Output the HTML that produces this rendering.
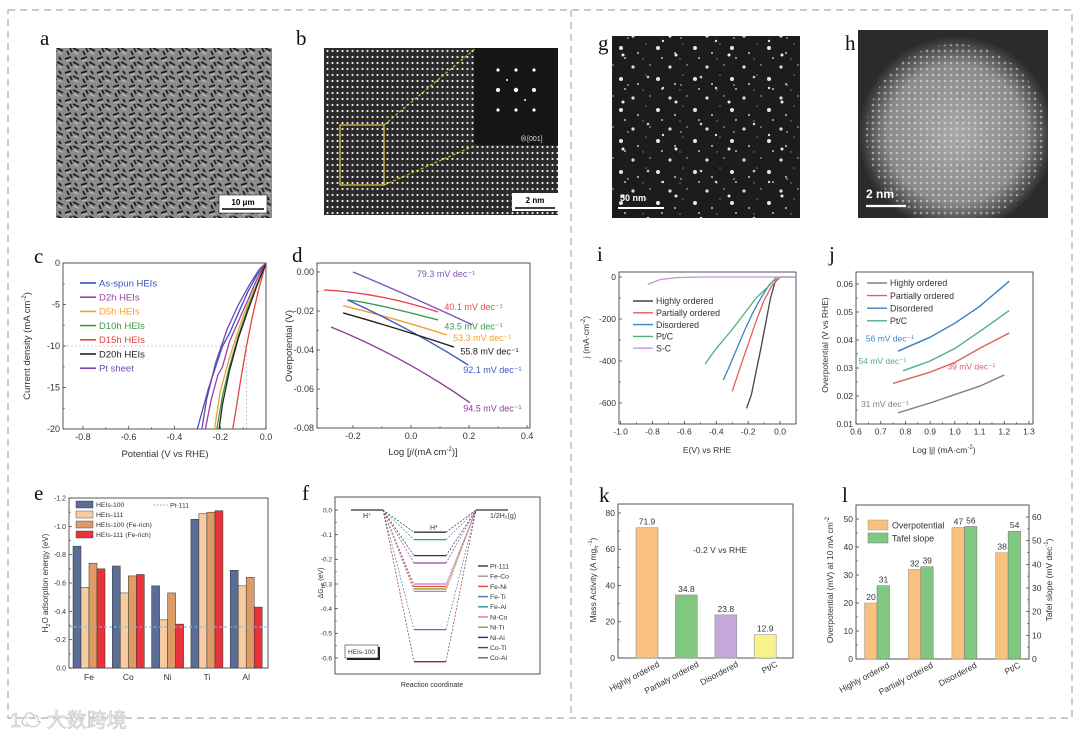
<!DOCTYPE html>
<html><head><meta charset="utf-8"><style>
html,body{margin:0;padding:0;background:#fff}
svg{display:block;font-family:"Liberation Sans",Arial,"Noto Sans CJK SC",sans-serif}
.let{font-family:"Liberation Serif","Times New Roman",serif;font-size:21px;fill:#111}
</style></head><body>
<svg id="fig" width="1080" height="737" viewBox="0 0 1080 737" xmlns="http://www.w3.org/2000/svg">
<defs>
 <pattern id="sem" width="16" height="14" patternUnits="userSpaceOnUse">
  <rect width="16" height="14" fill="#8c8c8c"/>
  <path d="M1 3 L7 1 M9 6 L15 9 M3 9 L5 13 M11 1 L13 4 M6 6 L8 10" stroke="#1e1e1e" stroke-width="1.8"/>
  <path d="M2 5 L7 4 M10 10 L14 12" stroke="#c4c4c4" stroke-width="1"/>
 </pattern>
 <pattern id="dots" width="5" height="6" patternUnits="userSpaceOnUse">
  <rect width="5" height="6" fill="#2a2a2a"/><circle cx="2.5" cy="3" r="1.1" fill="#e8e8e8"/>
 </pattern>
 <pattern id="speck" width="37" height="31" patternUnits="userSpaceOnUse">
  <rect width="37" height="31" fill="#1c1c1c"/>
  <circle cx="4" cy="5" r="1.6" fill="#ddd"/><circle cx="21" cy="3" r="0.9" fill="#999"/>
  <circle cx="29" cy="17" r="2" fill="#e6e6e6"/><circle cx="9" cy="22" r="1.1" fill="#aaa"/>
  <circle cx="17" cy="13" r="0.8" fill="#777"/><circle cx="33" cy="27" r="1" fill="#bbb"/>
  <circle cx="14" cy="28" r="0.7" fill="#888"/>
 </pattern>
 <pattern id="speck2" width="53" height="47" patternUnits="userSpaceOnUse">
  <circle cx="12" cy="30" r="1.3" fill="#ccc"/><circle cx="40" cy="8" r="1.5" fill="#eee"/>
  <circle cx="45" cy="38" r="0.9" fill="#aaa"/><circle cx="27" cy="41" r="1.2" fill="#ddd"/>
 </pattern>
 <pattern id="grid" width="6" height="6" patternUnits="userSpaceOnUse">
  <rect width="6" height="6" fill="none"/><circle cx="3" cy="3" r="1.3" fill="#fff" opacity="0.45"/>
 </pattern>
 <radialGradient id="glow" cx="0.5" cy="0.5" r="0.5">
  <stop offset="0" stop-color="#a8a8a8"/><stop offset="0.7" stop-color="#8a8a8a"/><stop offset="1" stop-color="#2b2b2b"/>
 </radialGradient>
 <clipPath id="hclip"><rect x="858" y="30" width="190" height="188"/></clipPath>
</defs>

<rect x="8" y="10" width="1064" height="708" fill="none" stroke="#aaa" stroke-width="1.2" stroke-dasharray="7 5"/>
<line x1="571" y1="10" x2="571" y2="718" stroke="#aaa" stroke-width="1.2" stroke-dasharray="7 5"/>

<g>
 <rect x="56" y="48" width="216" height="170" fill="url(#sem)"/>
 <rect x="219" y="195" width="48" height="18" fill="#fff" stroke="#222" stroke-width="0.6"/>
 <text x="243" y="205" font-size="8" font-weight="bold" text-anchor="middle">10 μm</text>
 <line x1="222" y1="209" x2="264" y2="209" stroke="#000" stroke-width="1.6"/>
</g>
<g>
 <rect x="324" y="48" width="234" height="167" fill="url(#dots)"/>
 <rect x="474" y="48" width="84" height="97" fill="#151515"/>
 <g fill="#fff"><circle cx="498" cy="70" r="1.6"/><circle cx="516" cy="70" r="1.6"/><circle cx="534" cy="70" r="1.6"/><circle cx="498" cy="90" r="2"/><circle cx="516" cy="90" r="2.2"/><circle cx="534" cy="90" r="2"/><circle cx="498" cy="110" r="1.6"/><circle cx="516" cy="110" r="1.6"/><circle cx="534" cy="110" r="1.6"/><circle cx="507" cy="80" r="1"/><circle cx="525" cy="100" r="1"/></g>
 <text x="520" y="141" font-size="7" fill="#ddd">⊗[001]</text>
 <rect x="340" y="125" width="44" height="60" fill="none" stroke="#e2d040" stroke-width="1.2"/>
 <line x1="384" y1="125" x2="476" y2="48" stroke="#e2d040" stroke-dasharray="3 2"/>
 <line x1="384" y1="185" x2="476" y2="145" stroke="#e2d040" stroke-dasharray="3 2"/>
 <rect x="512" y="193" width="46" height="18" fill="#fff"/>
 <text x="535" y="203" font-size="8" font-weight="bold" text-anchor="middle">2 nm</text>
 <line x1="515" y1="208" x2="555" y2="208" stroke="#000" stroke-width="1.6"/>
</g>
<g>
 <rect x="612" y="36" width="188" height="182" fill="url(#speck)"/>
 <rect x="612" y="36" width="188" height="182" fill="url(#speck2)"/>
 <text x="620" y="201" font-size="9" font-weight="bold" fill="#fff">50 nm</text>
 <line x1="618" y1="208" x2="664" y2="208" stroke="#fff" stroke-width="2"/>
</g>
<g clip-path="url(#hclip)">
 <rect x="858" y="30" width="190" height="188" fill="#2b2b2b"/>
 <circle cx="956" cy="134" r="98" fill="url(#glow)"/>
 <circle cx="956" cy="134" r="90" fill="url(#grid)"/>
 <text x="866" y="198" font-size="12" font-weight="bold" fill="#fff">2 nm</text>
 <line x1="866" y1="206" x2="906" y2="206" stroke="#fff" stroke-width="2.2"/>
</g>

<text class="let" x="40" y="45">a</text>
<text class="let" x="296" y="45">b</text>
<text class="let" x="598" y="50">g</text>
<text class="let" x="845" y="50">h</text>
<text class="let" x="34" y="263">c</text>
<text class="let" x="292" y="262">d</text>
<text class="let" x="34" y="500">e</text>
<text class="let" x="302" y="500">f</text>
<text class="let" x="597" y="261">i</text>
<text class="let" x="829" y="261">j</text>
<text class="let" x="599" y="502">k</text>
<text class="let" x="842" y="502">l</text>

<g font-size="9.5" fill="#333">
<text transform="rotate(-90 30 346)" x="30" y="346" text-anchor="middle">Current density (mA cm<tspan dy="-4" font-size="6">-2</tspan><tspan dy="4">)</tspan></text>
<text x="165" y="457" text-anchor="middle">Potential (V vs RHE)</text>
<text transform="rotate(-90 292 346)" x="292" y="346" text-anchor="middle">Overpotential (V)</text>
<text x="423" y="455" text-anchor="middle">Log [<tspan font-style="italic">j</tspan>/(mA cm<tspan dy="-4" font-size="6">-2</tspan><tspan dy="4">)]</tspan></text>
<text transform="rotate(-90 48 583)" x="48" y="583" text-anchor="middle" font-size="8">H<tspan dy="2" font-size="5.5">2</tspan><tspan dy="-2">O adsorption energy (eV)</tspan></text>
<text transform="rotate(-90 323 583)" x="323" y="583" text-anchor="middle" font-size="7">ΔG<tspan dy="2" font-size="5">H*</tspan><tspan dy="-2"> (eV)</tspan></text>
<text x="432" y="687" text-anchor="middle" font-size="7">Reaction coordinate</text>
<text transform="rotate(-90 589 337)" x="589" y="337" text-anchor="middle" font-size="8.5">j (mA·cm<tspan dy="-4" font-size="6">-2</tspan><tspan dy="4">)</tspan></text>
<text x="707" y="453" text-anchor="middle" font-size="8.5">E(V) vs RHE</text>
<text transform="rotate(-90 828 345)" x="828" y="345" text-anchor="middle" font-size="8.5">Overpotential (V vs RHE)</text>
<text x="944" y="453" text-anchor="middle" font-size="8.5">Log |j| (mA·cm<tspan dy="-4" font-size="6">-2</tspan><tspan dy="4">)</tspan></text>
<text transform="rotate(-90 596 580)" x="596" y="580" text-anchor="middle" font-size="8.5">Mass Activity (A mg<tspan dy="2" font-size="5.5">Ir</tspan><tspan dy="-6" font-size="5.5">-1</tspan><tspan dy="4">)</tspan></text>
<text x="720" y="553" text-anchor="middle" font-size="8.5">-0.2 V vs RHE</text>
<text transform="rotate(-90 833 580)" x="833" y="580" text-anchor="middle" font-size="8.5">Overpotential (mV) at 10 mA cm<tspan dy="-4" font-size="6">-2</tspan></text>
<text transform="rotate(-90 1052 580)" x="1052" y="580" text-anchor="middle" font-size="8.5">Tafel slope (mV dec<tspan dy="-4" font-size="6">-1</tspan><tspan dy="4">)</tspan></text>
</g>

<g>
 <text x="10" y="727" font-size="20" fill="#e6e6e6" stroke="#c8c8c8" stroke-width="0.6">1☁ 大数跨境</text>
</g>

<g id="marks"></g>
</svg>
<script>
const cSeriesNames = ["As-spun HEIs","D2h HEIs","D5h HEIs","D10h HEIs","D15h HEIs","D20h HEIs","Pt sheet"];
const cColors = ["#3a4fc0","#9b3fa0","#f0a030","#3a9a4a","#e84040","#222222","#7048b0"];
const cPotentials = [
 [0,-0.04,-0.08,-0.12,-0.16,-0.19,-0.25,-0.30],
 [0,-0.04,-0.08,-0.12,-0.16,-0.19,-0.21,-0.24,-0.265],
 [0,-0.04,-0.08,-0.12,-0.16,-0.20,-0.225],
 [0,-0.04,-0.08,-0.12,-0.16,-0.19,-0.215],
 [0,-0.03,-0.06,-0.085,-0.11,-0.13,-0.145],
 [0,-0.04,-0.08,-0.12,-0.16,-0.19,-0.205],
 [0,-0.03,-0.07,-0.12,-0.17,-0.22,-0.26,-0.28]];
const cCurrents = [
 [0,-1.5,-3.5,-6,-8.5,-10,-15,-20],
 [0,-2,-4.5,-7,-9.5,-12.5,-13.5,-16.5,-20],
 [0,-2.5,-5,-8,-11.5,-15.5,-20],
 [0,-2.7,-5.5,-8.7,-12.5,-16,-20],
 [0,-3,-6.5,-10,-14,-17.5,-20],
 [0,-2.8,-5.8,-9,-13,-17,-20],
 [0,-0.8,-2.5,-5,-8,-12,-16.5,-20]];
const cXTicks = [-0.8,-0.6,-0.4,-0.2,0.0];
const cXLabels = ["-0.8","-0.6","-0.4","-0.2","0.0"];
const cYTicks = [0,-5,-10,-15,-20];
const cYLabels = ["0","-5","-10","-15","-20"];
const dColors = ["#7a55b5","#e84848","#3a9a4a","#f0a030","#3a5ac0","#222222","#8e3f91"];
const dSlopes = ["79.3 mV dec⁻¹","40.1 mV dec⁻¹","43.5 mV dec⁻¹","53.3 mV dec⁻¹","92.1 mV dec⁻¹","55.8 mV dec⁻¹","94.5 mV dec⁻¹"];
const dLogJ = [[-0.2,0.0,0.21],[-0.30,-0.107,0.093],[-0.22,-0.107,0.093],[-0.234,-0.05,0.124],[-0.217,0.0,0.197],[-0.234,-0.04,0.148],[-0.276,-0.03,0.203]];
const dEta = [[0.0,-0.0128,-0.027],[-0.0092,-0.0127,-0.0205],[-0.0144,-0.0173,-0.0246],[-0.0173,-0.0245,-0.0323],[-0.0144,-0.0305,-0.0477],[-0.021,-0.0295,-0.0385],[-0.0282,-0.0455,-0.067]];
const dLabelPos = [[0.02,-0.0025],[0.115,-0.0195],[0.115,-0.0296],[0.145,-0.0355],[0.18,-0.0518],[0.17,-0.0422],[0.18,-0.0715]];
const dXTicks = [-0.2,0.0,0.2,0.4];
const dXLabels = ["-0.2","0.0","0.2","0.4"];
const dYTicks = [0,-0.02,-0.04,-0.06,-0.08];
const dYLabels = ["0.00","-0.02","-0.04","-0.06","-0.08"];
const eCategories = ["Fe","Co","Ni","Ti","Al"];
const eSeriesNames = ["HEIs-100","HEIs-111","HEIs-100 (Fe-rich)","HEIs-111 (Fe-rich)"];
const eColors = ["#5a6d96","#f8cca2","#df9b66","#e8333a"];
const eValues = [
 [-0.86,-0.72,-0.58,-1.05,-0.69],
 [-0.57,-0.53,-0.34,-1.09,-0.58],
 [-0.74,-0.65,-0.53,-1.10,-0.64],
 [-0.70,-0.66,-0.31,-1.11,-0.43]];
const ePt111 = -0.29;
const eYTicks = [0,-0.2,-0.4,-0.6,-0.8,-1.0,-1.2];
const eYLabels = ["0.0","-0.2","-0.4","-0.6","-0.8","-1.0","-1.2"];
const fNames = ["Pt-111","Fe-Co","Fe-Ni","Fe-Ti","Fe-Al","Ni-Co","Ni-Ti","Ni-Al","Co-Ti","Co-Al"];
const fColors = ["#333333","#9a9a9a","#e04a3a","#5a6fc0","#2a9d8f","#d070c8","#9a9a30","#2c2c70","#8a3030","#8a4a9a"];
const fLevels = [-0.09,-0.33,-0.31,-0.485,-0.12,-0.30,-0.32,-0.185,-0.615,-0.215];
const fYTicks = [0,-0.1,-0.2,-0.3,-0.4,-0.5,-0.6];
const fYLabels = ["0.0","-0.1","-0.2","-0.3","-0.4","-0.5","-0.6"];
const iNames = ["Highly ordered","Partially ordered","Disordered","Pt/C","S-C"];
const iColors = ["#444444","#e85a5a","#3d85c6","#4cb07a","#c792d8"];
const iE = [
 [0.1,0,-0.03,-0.06,-0.09,-0.12,-0.15,-0.18,-0.21],
 [0,-0.05,-0.1,-0.15,-0.2,-0.25,-0.30],
 [-0.02,-0.07,-0.12,-0.17,-0.22,-0.27,-0.32,-0.355],
 [-0.02,-0.08,-0.15,-0.2,-0.3,-0.4,-0.47],
 [0.1,-0.5,-0.65,-0.75,-0.83]];
const iJ = [
 [0,0,-20,-100,-220,-340,-450,-560,-625],
 [0,-40,-110,-210,-320,-430,-545],
 [0,-40,-100,-170,-250,-340,-430,-490],
 [0,-50,-100,-150,-250,-340,-414],
 [0,0,-3,-12,-35]];
const iXTicks = [-1.0,-0.8,-0.6,-0.4,-0.2,0.0];
const iXLabels = ["-1.0","-0.8","-0.6","-0.4","-0.2","0.0"];
const iYTicks = [0,-200,-400,-600];
const iYLabels = ["0","-200","-400","-600"];
const jNames = ["Highly ordered","Partially ordered","Disordered","Pt/C"];
const jColors = ["#808080","#e06060","#3d7fc0","#4fb080"];
const jLogJ = [[0.77,0.9,1.0,1.1,1.2],[0.75,0.9,1.0,1.1,1.22],[0.77,0.9,1.0,1.1,1.22],[0.79,0.9,1.0,1.1,1.22]];
const jEta = [[0.014,0.0175,0.0205,0.0235,0.0275],[0.0245,0.0285,0.032,0.037,0.0425],[0.036,0.041,0.046,0.052,0.061],[0.029,0.0325,0.037,0.043,0.0505]];
const jSlopes = ["31 mV dec⁻¹","39 mV dec⁻¹","56 mV dec⁻¹","54 mV dec⁻¹"];
const jLabelPos = [[0.62,0.016],[0.97,0.0295],[0.64,0.0395],[0.61,0.0315]];
const jXTicks = [0.6,0.7,0.8,0.9,1.0,1.1,1.2,1.3];
const jXLabels = ["0.6","0.7","0.8","0.9","1.0","1.1","1.2","1.3"];
const jYTicks = [0.01,0.02,0.03,0.04,0.05,0.06];
const jYLabels = ["0.01","0.02","0.03","0.04","0.05","0.06"];
const kCategories = ["Highly ordered","Partialy ordered","Disordered","Pt/C"];
const kValues = [71.9,34.8,23.8,12.9];
const kValueLabels = ["71.9","34.8","23.8","12.9"];
const kColors = ["#f9c17e","#80c880","#c4a8dc","#f8f28a"];
const kYTicks = [0,20,40,60,80];
const kYLabels = ["0","20","40","60","80"];
const lCategories = ["Highly ordered","Partialy ordered","Disordered","Pt/C"];
const lOverpotential = [20,32,47,38];
const lTafel = [31,39,56,54];
const lLeftTicks = [0,10,20,30,40,50];
const lLeftLabels = ["0","10","20","30","40","50"];
const lRightTicks = [0,10,20,30,40,50,60];
const lRightLabels = ["0","10","20","30","40","50","60"];

const NS='http://www.w3.org/2000/svg';
const root=document.getElementById('marks');
function mk(tag,attrs,parent){const e=document.createElementNS(NS,tag);for(const k in attrs)e.setAttribute(k,attrs[k]);(parent||root).appendChild(e);return e;}
function lin(d0,d1,r0,r1){return v=>r0+(v-d0)/(d1-d0)*(r1-r0);}
function frame(p,x0,y0,x1,y1){
  const r=mk('rect',{x:x0,y:y0,width:x1-x0,height:y1-y0,fill:'none',stroke:'#444','stroke-width':0.9});
  
  
}
function yAxis(p,x0,x1,sc,vals,labs,fs,side){
  vals.forEach((v,i)=>{
    const y=sc(v);
    const xe = side==='right'?x1:x0, dir = side==='right'?-1:1;
    const t=mk('line',{x1:xe,y1:y,x2:xe+3*dir,y2:y,stroke:'#444','stroke-width':0.8});
    
    
    const l=mk('text',{x:side==='right'?xe+3:xe-3,y:y+fs*0.35,'font-size':fs,'text-anchor':side==='right'?'start':'end',fill:'#333'});
    l.textContent=labs[i];
    
    
    if(i<vals.length-1){
      const m=sc((v+vals[i+1])/2);
      const mt=mk('line',{x1:xe,y1:m,x2:xe+1.8*dir,y2:m,stroke:'#444','stroke-width':0.7});
      
      
    }
  });
}
function xAxis(p,y0,sc,vals,labs,fs){
  vals.forEach((v,i)=>{
    const x=sc(v);
    const t=mk('line',{x1:x,y1:y0,x2:x,y2:y0-3,stroke:'#444','stroke-width':0.8});
    
    
    const l=mk('text',{x:x,y:y0+fs+2,'font-size':fs,'text-anchor':'middle',fill:'#333'});
    l.textContent=labs[i];
    
    
    if(i<vals.length-1){
      const m=sc((v+vals[i+1])/2);
      const mt=mk('line',{x1:m,y1:y0,x2:m,y2:y0-1.8,stroke:'#444','stroke-width':0.7});
      
      
    }
  });
}
function pathD(xs,ys,sx,sy){return xs.map((x,i)=>(i?'L':'M')+sx(x).toFixed(1)+' '+sy(ys[i]).toFixed(1)).join(' ');}

// PANEL C
const cx=lin(-0.887,0,63,266), cy=lin(0,-20,263,429);
frame('c',63,263,266,429);
const cRef1=mk('path',{d:'M63 '+cy(-10)+' L'+cx(-0.085)+' '+cy(-10)+' L'+cx(-0.085)+' 429',fill:'none',stroke:'#bbb','stroke-width':0.8,'stroke-dasharray':'2 2'});


cSeriesNames.forEach((n,s)=>{
  const p=mk('path',{d:pathD(cPotentials[s],cCurrents[s],cx,cy),fill:'none',stroke:cColors[s],'stroke-width':1.3});
  
  
  const ly=283+s*14.2;
  const ll=mk('line',{x1:80,y1:ly,x2:96,y2:ly,stroke:cColors[s],'stroke-width':1.6});
  
  
  const lt=mk('text',{x:99,y:ly+3.3,'font-size':9.5,fill:cColors[s]});
  lt.textContent=n;
  
  
});
xAxis('c',429,cx,cXTicks,cXLabels,9);
yAxis('c',63,266,cy,cYTicks,cYLabels,9);

// PANEL D
const dx=lin(-0.324,0.41,317,530), dy=lin(0,-0.08,272,428);
frame('d',317,263,530,428);
dColors.forEach((c,s)=>{
  const xs=dLogJ[s], ys=dEta[s];
  const d='M'+dx(xs[0])+' '+dy(ys[0])+' Q'+(2*dx(xs[1])-(dx(xs[0])+dx(xs[2]))/2)+' '+(2*dy(ys[1])-(dy(ys[0])+dy(ys[2]))/2)+' '+dx(xs[2])+' '+dy(ys[2]);
  const p=mk('path',{d:d,fill:'none',stroke:c,'stroke-width':1.4});
  
  
  const t=mk('text',{x:dx(dLabelPos[s][0]),y:dy(dLabelPos[s][1]),'font-size':9,fill:c});
  t.textContent=dSlopes[s];
  
  
});
xAxis('d',428,dx,dXTicks,dXLabels,9);
yAxis('d',317,530,dy,dYTicks,dYLabels,9);

// PANEL E
const ey=lin(0,-1.2,668,498), eCat=i=>89+i*39.3;
frame('e',69,498,268,668);
eSeriesNames.forEach((n,s)=>{
  eCategories.forEach((c,i)=>{
    const x=eCat(i)-16+s*8, y=ey(eValues[s][i]);
    const b=mk('rect',{x:x,y:y,width:8,height:668-y,fill:eColors[s],stroke:'#333','stroke-width':0.5});
    
    
  });
  const sw=mk('rect',{x:76,y:501+s*10,width:17,height:7,fill:eColors[s],stroke:'#333','stroke-width':0.4});
  
  
  const lt=mk('text',{x:96,y:507+s*10,'font-size':6.8,fill:'#333'});
  lt.textContent=n;
  
  
});
const ept=mk('line',{x1:69,y1:ey(ePt111),x2:268,y2:ey(ePt111),stroke:'#8ab8d0','stroke-width':1,'stroke-dasharray':'3 2'});


const eptl=mk('line',{x1:153,y1:505,x2:168,y2:505,stroke:'#8ab8d0','stroke-width':1,'stroke-dasharray':'2 1.5'});


const eptt=mk('text',{x:170,y:507.5,'font-size':6.8,fill:'#333'});
eptt.textContent='Pt-111';


eCategories.forEach((c,i)=>{
  const t=mk('text',{x:eCat(i),y:680,'font-size':8.5,'text-anchor':'middle',fill:'#333'});
  t.textContent=c;
  
  
});
yAxis('e',69,268,ey,eYTicks,eYLabels,7);

// PANEL F
const fy=lin(0,-0.6,510,658);
frame('f',335,497,540,674);
const fh1=mk('line',{x1:351,y1:fy(0),x2:383,y2:fy(0),stroke:'#333','stroke-width':1.3});


const fh2=mk('line',{x1:476,y1:fy(0),x2:508,y2:fy(0),stroke:'#333','stroke-width':1.3});


fNames.forEach((n,s)=>{
  const y=fy(fLevels[s]);
  const dl=mk('path',{d:'M383 '+fy(0)+' L414 '+y+' M446 '+y+' L476 '+fy(0),fill:'none',stroke:fColors[s],'stroke-width':0.7,'stroke-dasharray':'2 1.5'});
  
  
  const lv=mk('line',{x1:414,y1:y,x2:446,y2:y,stroke:fColors[s],'stroke-width':1.3});
  
  
  const ly=566+s*10.2;
  const ls=mk('line',{x1:478,y1:ly,x2:488,y2:ly,stroke:fColors[s],'stroke-width':1.4});
  
  
  const lt=mk('text',{x:490,y:ly+2.4,'font-size':6.8,fill:'#333'});
  lt.textContent=n;
  
  
});
[['H⁺',363,518],['H*',430,530],['1/2H₂(g)',490,518]].forEach(a=>{
  const t=mk('text',{x:a[1],y:a[2],'font-size':7,fill:'#333'});
  t.textContent=a[0];
  
  
});
const fbs=mk('rect',{x:347,y:647,width:33,height:13,fill:'#222'});


const fb=mk('rect',{x:345,y:645,width:33,height:13,fill:'#fff',stroke:'#333','stroke-width':0.6});


const fbt=mk('text',{x:361.5,y:654,'font-size':6.5,'text-anchor':'middle',fill:'#333'});
fbt.textContent='HEIs-100';


yAxis('f',335,540,fy,fYTicks,fYLabels,6.5);

// PANEL I
const ix=lin(-1.01,0.1,619,796), iy=lin(0,-700,277,424);
frame('i',619,272,796,424);
iNames.forEach((n,s)=>{
  const p=mk('path',{d:pathD(iE[s],iJ[s],ix,iy),fill:'none',stroke:iColors[s],'stroke-width':1.3});
  
  
  const ly=301+s*11.8;
  const ll=mk('line',{x1:633,y1:ly,x2:653,y2:ly,stroke:iColors[s],'stroke-width':1.4});
  
  
  const lt=mk('text',{x:656,y:ly+3.2,'font-size':8.8,fill:'#333'});
  lt.textContent=n;
  
  
});
xAxis('i',424,ix,iXTicks,iXLabels,8.5);
yAxis('i',619,796,iy,iYTicks,iYLabels,8.5);

// PANEL J
const jx=lin(0.6,1.3,856,1029), jy=lin(0.01,0.06,424,284);
frame('j',856,272,1033,424);
jNames.forEach((n,s)=>{
  const p=mk('path',{d:pathD(jLogJ[s],jEta[s],jx,jy),fill:'none',stroke:jColors[s],'stroke-width':1.4});
  
  
  const ly=283+s*12.6;
  const ll=mk('line',{x1:867,y1:ly,x2:887,y2:ly,stroke:jColors[s],'stroke-width':1.4});
  
  
  const lt=mk('text',{x:890,y:ly+3.2,'font-size':8.8,fill:'#333'});
  lt.textContent=n;
  
  
  const st=mk('text',{x:jx(jLabelPos[s][0]),y:jy(jLabelPos[s][1]),'font-size':8.5,fill:jColors[s]});
  st.textContent=jSlopes[s];
  
  
});
xAxis('j',424,jx,jXTicks,jXLabels,8.5);
yAxis('j',856,1033,jy,jYTicks,jYLabels,8.5);

// PANEL K
const ky=lin(0,80,658,513), kCat=i=>647+i*39.4;
frame('k',618,504,793,658);
kCategories.forEach((c,i)=>{
  const y=ky(kValues[i]);
  const b=mk('rect',{x:kCat(i)-11,y:y,width:22,height:658-y,fill:kColors[i],stroke:'#999','stroke-width':0.6});
  
  
  const v=mk('text',{x:kCat(i),y:y-3,'font-size':8.5,'text-anchor':'middle',fill:'#333'});
  v.textContent=kValueLabels[i];
  
  
  const xl=mk('text',{x:kCat(i)+13,y:666,'font-size':8.5,'text-anchor':'end',fill:'#333',transform:'rotate(-28 '+(kCat(i)+13)+' 666)'});
  xl.textContent=c;
  
  
});
yAxis('k',618,793,ky,kYTicks,kYLabels,8.5);

// PANEL L
const lyL=lin(0,50,659,519), lyR=lin(0,60,659,517), lCat=i=>877+i*43.7;
frame('l',856,505,1029,659);
lCategories.forEach((c,i)=>{
  const y1=lyL(lOverpotential[i]);
  const b1=mk('rect',{x:lCat(i)-12.5,y:y1,width:12.5,height:659-y1,fill:'#f9c17e',stroke:'#999','stroke-width':0.5});
  
  
  const y2=lyR(lTafel[i]);
  const b2=mk('rect',{x:lCat(i),y:y2,width:12.5,height:659-y2,fill:'#80c880',stroke:'#777','stroke-width':0.5});
  
  
  const t1=mk('text',{x:lCat(i)-6,y:y1-3,'font-size':8.5,'text-anchor':'middle',fill:'#333'});
  t1.textContent=String(lOverpotential[i]);
  
  
  const t2=mk('text',{x:lCat(i)+6.5,y:y2-3,'font-size':8.5,'text-anchor':'middle',fill:'#333'});
  t2.textContent=String(lTafel[i]);
  
  
  const xl=mk('text',{x:lCat(i)+13,y:667,'font-size':8.5,'text-anchor':'end',fill:'#333',transform:'rotate(-28 '+(lCat(i)+13)+' 667)'});
  xl.textContent=c;
  
  
});
const ls1=mk('rect',{x:868,y:520,width:20,height:10,fill:'#f9c17e',stroke:'#999','stroke-width':0.5});


const ls2=mk('rect',{x:868,y:533,width:20,height:10,fill:'#80c880',stroke:'#777','stroke-width':0.5});


const lt1=mk('text',{x:892,y:528.5,'font-size':8.8,fill:'#333'});
lt1.textContent='Overpotential';


const lt2=mk('text',{x:892,y:541.5,'font-size':8.8,fill:'#333'});
lt2.textContent='Tafel slope';


yAxis('l',856,1029,lyL,lLeftTicks,lLeftLabels,8.5);
yAxis('l-right',856,1029,lyR,lRightTicks,lRightLabels,8.5,'right');
</script>
</body></html>
